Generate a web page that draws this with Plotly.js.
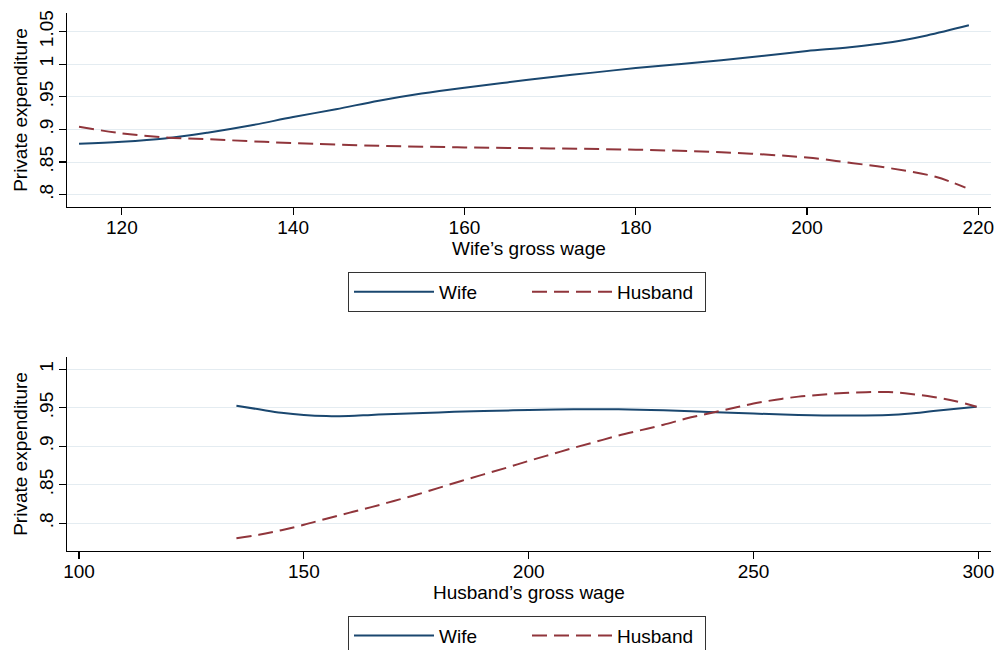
<!DOCTYPE html>
<html>
<head>
<meta charset="utf-8">
<script src="https://cdn.plot.ly/plotly-3.0.1.min.js"></script>
<style>
  html, body { margin: 0; padding: 0; background: #fff; }
  #chart { width: 996px; height: 650px; }
</style>
</head>
<body>
<div id="chart"></div>
<script>
// Private expenditure against the wife's gross wage (upper panel)
const wifeWageX = [115, 120, 125, 130, 135, 140, 145, 150, 155, 160, 165, 170, 175, 180, 185, 190, 195, 200, 205, 210, 214, 218.9];
const wifeWageWifeY = [0.878, 0.881, 0.886, 0.895, 0.906, 0.919, 0.931, 0.944, 0.955, 0.964, 0.972, 0.980, 0.987, 0.994, 1.000, 1.006, 1.013, 1.020, 1.026, 1.034, 1.044, 1.0595];
const wifeWageHusbX = [115, 120, 125, 130, 135, 140, 150, 160, 170, 180, 190, 200, 205, 210, 215, 218.5];
const wifeWageHusbY = [0.904, 0.894, 0.888, 0.885, 0.882, 0.879, 0.875, 0.8725, 0.871, 0.869, 0.865, 0.857, 0.849, 0.840, 0.8275, 0.811];

// Private expenditure against the husband's gross wage (lower panel)
const husbWageWifeX = [135, 140, 145, 150, 155, 160, 165, 170, 180, 190, 200, 210, 220, 230, 240, 250, 260, 270, 280, 285, 290, 299.6];
const husbWageWifeY = [0.9526, 0.948, 0.9435, 0.9405, 0.9392, 0.9395, 0.9408, 0.942, 0.944, 0.946, 0.947, 0.948, 0.948, 0.9467, 0.9445, 0.9425, 0.9408, 0.940, 0.9405, 0.9425, 0.9457, 0.9513];
const husbWageHusbX = [135, 140, 145, 150, 155, 160, 165, 170, 175, 180, 185, 190, 195, 200, 205, 210, 215, 220, 225, 230, 235, 240, 245, 250, 255, 260, 265, 270, 275, 280, 285, 290, 295, 299.6];
const husbWageHusbY = [0.7805, 0.785, 0.791, 0.798, 0.806, 0.8135, 0.821, 0.829, 0.837, 0.846, 0.855, 0.8635, 0.872, 0.881, 0.8895, 0.898, 0.906, 0.914, 0.921, 0.928, 0.936, 0.9425, 0.949, 0.9555, 0.9605, 0.9645, 0.967, 0.9693, 0.9703, 0.9704, 0.968, 0.964, 0.9585, 0.9513];

// Axis ticks
const topXTicks = [120, 140, 160, 180, 200, 220];
const topYTicks = [0.8, 0.85, 0.9, 0.95, 1, 1.05];
const topYLabels = ['.8', '.85', '.9', '.95', '1', '1.05'];
const botXTicks = [100, 150, 200, 250, 300];
const botYTicks = [0.8, 0.85, 0.9, 0.95, 1];
const botYLabels = ['.8', '.85', '.9', '.95', '1'];

const seriesNames = ['Wife', 'Husband'];
const WIFE_COLOR = '#1a476f';
const HUSB_COLOR = '#90353b';
const FONT = 'Liberation Sans, Arial, sans-serif';
const INK = '#000000';
const GRID = '#e4ecf1';

const wifeLine = { color: WIFE_COLOR, width: 2, shape: 'spline', smoothing: 1 };
const husbLine = { color: HUSB_COLOR, width: 2, dash: '15px,7px', shape: 'spline', smoothing: 1 };

const traces = [
  { x: wifeWageX, y: wifeWageWifeY, name: seriesNames[0], mode: 'lines', line: wifeLine, xaxis: 'x', yaxis: 'y', legend: 'legend' },
  { x: wifeWageHusbX, y: wifeWageHusbY, name: seriesNames[1], mode: 'lines', line: husbLine, xaxis: 'x', yaxis: 'y', legend: 'legend' },
  { x: husbWageWifeX, y: husbWageWifeY, name: seriesNames[0], mode: 'lines', line: wifeLine, xaxis: 'x2', yaxis: 'y2', legend: 'legend2' },
  { x: husbWageHusbX, y: husbWageHusbY, name: seriesNames[1], mode: 'lines', line: husbLine, xaxis: 'x2', yaxis: 'y2', legend: 'legend2' }
];

function xAxis(anchor, range, ticks, title) {
  return {
    anchor: anchor, domain: [0.0673, 0.9947], range: range,
    tickmode: 'array', tickvals: ticks,
    showline: true, linecolor: INK, linewidth: 1.2,
    ticks: 'outside', ticklen: 7, tickwidth: 1.2, tickcolor: INK,
    ticklabelstandoff: -4,
    showgrid: false, zeroline: false,
    tickfont: { family: FONT, size: 19, color: INK },
    title: { text: title, standoff: 3, font: { family: FONT, size: 19, color: INK } }
  };
}
function yAxis(anchor, domain, range, ticks, labels) {
  return {
    anchor: anchor, domain: domain, range: range,
    tickmode: 'array', tickvals: ticks, ticktext: labels, tickangle: -90,
    showline: true, linecolor: INK, linewidth: 1.2,
    ticks: 'outside', ticklen: 7, tickwidth: 1.2, tickcolor: INK,
    ticklabelstandoff: -2,
    showgrid: true, gridcolor: GRID, gridwidth: 1, zeroline: false,
    tickfont: { family: FONT, size: 19, color: INK },
    title: { text: 'Private expenditure', standoff: 3, font: { family: FONT, size: 19, color: INK } }
  };
}
function legendBox(y) {
  return {
    orientation: 'h', x: 0.3494, xanchor: 'left', y: y, yanchor: 'top',
    bgcolor: '#ffffff', bordercolor: '#333333', borderwidth: 1,
    font: { family: FONT, size: 19, color: INK },
    itemwidth: 80, entrywidth: 83, entrywidthmode: 'pixels',
    itemclick: false, itemdoubleclick: false
  };
}

const layout = {
  width: 996, height: 650,
  margin: { l: 0, r: 0, t: 0, b: 0, autoexpand: false },
  paper_bgcolor: '#ffffff', plot_bgcolor: '#ffffff',
  showlegend: true,
  xaxis: xAxis('y', [113.6, 221.45], topXTicks, 'Wife’s gross wage'),
  yaxis: yAxis('x', [0.6815, 0.98], [0.7812, 1.0783], topYTicks, topYLabels),
  xaxis2: xAxis('y2', [97.33, 302.75], botXTicks, 'Husband’s gross wage'),
  yaxis2: yAxis('x2', [0.1523, 0.4508], [0.764, 1.016], botYTicks, botYLabels),
  legend: legendBox(1 - 272 / 650),
  legend2: legendBox(1 - 615.7 / 650)
};

Plotly.newPlot('chart', traces, layout, { staticPlot: true, displayModeBar: false });
</script>
</body>
</html>
